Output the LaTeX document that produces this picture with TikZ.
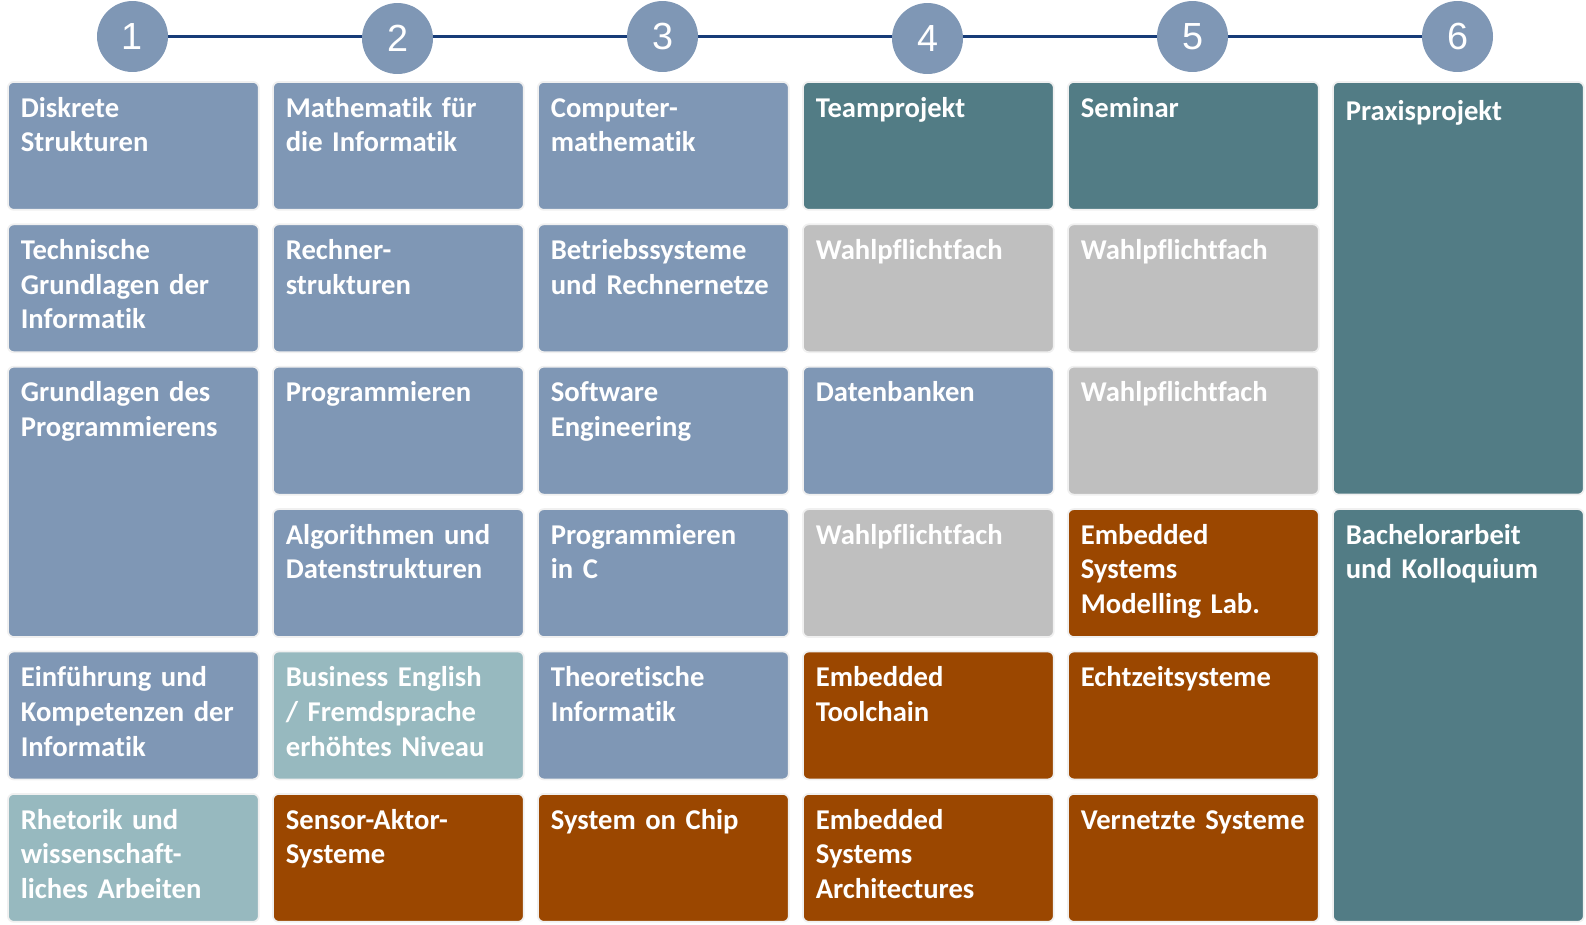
\documentclass[tikz,border=0pt]{standalone}
\usepackage{fontspec}
\setmainfont{Carlito}[Ligatures=NoCommon]
\newfontfamily\numfont{Liberation Sans}
\usetikzlibrary{backgrounds}
\definecolor{mod-blue}{HTML}{7F97B5}
\definecolor{mod-teal}{HTML}{527C85}
\definecolor{mod-gray}{HTML}{BFBFBF}
\definecolor{mod-light}{HTML}{97B9BF}
\definecolor{mod-orange}{HTML}{9B4700}
\definecolor{mod-line}{HTML}{173C78}

\begin{document}
\begin{tikzpicture}[x=0.02cm, y=-0.02cm,
        box/.style={anchor=north west, inner sep=0, minimum width=5.02cm,
          minimum height=2.56cm, rounded corners=3.4pt, draw=black!6, line width=1pt},
        tall/.style={minimum height=5.408cm},
        taller/.style={minimum height=8.256cm},
        modtext/.style={anchor=base west, inner sep=0, text width=4.8cm, align=left,
          text=white, font=\bfseries\fontsize{16.3}{19.8}\selectfont},
        sem/.style={circle, fill=mod-blue, minimum size=1.42cm, inner sep=0,
          text=white, font=\numfont\fontsize{21.5}{24}\selectfont}]
      \useasboundingbox (0,0) rectangle (1586,924);
      \foreach \n/\x/\y in {1/132.5/36.5, 2/397.5/38.5, 3/662.5/36.5,
          4/927.5/38.5, 5/1192.5/36.5, 6/1457.5/36.5}
        \node[sem] (s\n) at (\x,\y) {\n};
      \begin{scope}[on background layer]
        \draw[mod-line, line width=1.3pt] (s1.center) -- (s6.center);
      \end{scope}
      \node[box, fill=mod-blue] (ds) at (7,81) {};
      \node[modtext] (ds-t) at ([shift={(13.5,36)}]ds.north west) {Diskrete\\Strukturen};
      \node[box, fill=mod-blue] (tg) at (7,223.4) {};
      \node[modtext] (tg-t) at ([shift={(13.5,36)}]tg.north west) {Technische\\Grundlagen der\\Informatik};
      \node[box, tall, fill=mod-blue] (gp) at (7,365.8) {};
      \node[modtext] (gp-t) at ([shift={(13.5,36)}]gp.north west) {Grundlagen des\\Programmierens};
      \node[box, fill=mod-blue] (ek) at (7,650.6) {};
      \node[modtext] (ek-t) at ([shift={(13.5,36)}]ek.north west) {Einführung und\\Kompetenzen der\\Informatik};
      \node[box, fill=mod-light] (rw) at (7,793) {};
      \node[modtext] (rw-t) at ([shift={(13.5,36)}]rw.north west) {Rhetorik und\\wissenschaft-\\liches Arbeiten};
      \node[box, fill=mod-blue] (mi) at (272,81) {};
      \node[modtext] (mi-t) at ([shift={(13.5,36)}]mi.north west) {Mathematik für\\die Informatik};
      \node[box, fill=mod-blue] (rs) at (272,223.4) {};
      \node[modtext] (rs-t) at ([shift={(13.5,36)}]rs.north west) {Rechner-\\strukturen};
      \node[box, fill=mod-blue] (pr) at (272,365.8) {};
      \node[modtext] (pr-t) at ([shift={(13.5,36)}]pr.north west) {Programmieren};
      \node[box, fill=mod-blue] (ad) at (272,508.2) {};
      \node[modtext] (ad-t) at ([shift={(13.5,36)}]ad.north west) {Algorithmen und\\Datenstrukturen};
      \node[box, fill=mod-light] (be) at (272,650.6) {};
      \node[modtext] (be-t) at ([shift={(13.5,36)}]be.north west) {Business English\\/ Fremdsprache\\erhöhtes Niveau};
      \node[box, fill=mod-orange] (sa) at (272,793) {};
      \node[modtext] (sa-t) at ([shift={(13.5,36)}]sa.north west) {Sensor-Aktor-\\Systeme};
      \node[box, fill=mod-blue] (cm) at (537,81) {};
      \node[modtext] (cm-t) at ([shift={(13.5,36)}]cm.north west) {Computer-\\mathematik};
      \node[box, fill=mod-blue] (br) at (537,223.4) {};
      \node[modtext] (br-t) at ([shift={(13.5,36)}]br.north west) {Betriebssysteme\\und Rechnernetze};
      \node[box, fill=mod-blue] (se) at (537,365.8) {};
      \node[modtext] (se-t) at ([shift={(13.5,36)}]se.north west) {Software\\Engineering};
      \node[box, fill=mod-blue] (pc) at (537,508.2) {};
      \node[modtext] (pc-t) at ([shift={(13.5,36)}]pc.north west) {Programmieren\\in C};
      \node[box, fill=mod-blue] (ti) at (537,650.6) {};
      \node[modtext] (ti-t) at ([shift={(13.5,36)}]ti.north west) {Theoretische\\Informatik};
      \node[box, fill=mod-orange] (sc) at (537,793) {};
      \node[modtext] (sc-t) at ([shift={(13.5,36)}]sc.north west) {System on Chip};
      \node[box, fill=mod-teal] (tp) at (802,81) {};
      \node[modtext] (tp-t) at ([shift={(13.5,36)}]tp.north west) {Teamprojekt};
      \node[box, fill=mod-gray] (wa) at (802,223.4) {};
      \node[modtext] (wa-t) at ([shift={(13.5,36)}]wa.north west) {Wahlpflichtfach};
      \node[box, fill=mod-blue] (db) at (802,365.8) {};
      \node[modtext] (db-t) at ([shift={(13.5,36)}]db.north west) {Datenbanken};
      \node[box, fill=mod-gray] (wb) at (802,508.2) {};
      \node[modtext] (wb-t) at ([shift={(13.5,36)}]wb.north west) {Wahlpflichtfach};
      \node[box, fill=mod-orange] (et) at (802,650.6) {};
      \node[modtext] (et-t) at ([shift={(13.5,36)}]et.north west) {Embedded\\Toolchain};
      \node[box, fill=mod-orange] (ea) at (802,793) {};
      \node[modtext] (ea-t) at ([shift={(13.5,36)}]ea.north west) {Embedded\\Systems\\Architectures};
      \node[box, fill=mod-teal] (sm) at (1067,81) {};
      \node[modtext] (sm-t) at ([shift={(13.5,36)}]sm.north west) {Seminar};
      \node[box, fill=mod-gray] (wc) at (1067,223.4) {};
      \node[modtext] (wc-t) at ([shift={(13.5,36)}]wc.north west) {Wahlpflichtfach};
      \node[box, fill=mod-gray] (wd) at (1067,365.8) {};
      \node[modtext] (wd-t) at ([shift={(13.5,36)}]wd.north west) {Wahlpflichtfach};
      \node[box, fill=mod-orange] (em) at (1067,508.2) {};
      \node[modtext] (em-t) at ([shift={(13.5,36)}]em.north west) {Embedded\\Systems\\Modelling Lab.};
      \node[box, fill=mod-orange] (es) at (1067,650.6) {};
      \node[modtext] (es-t) at ([shift={(13.5,36)}]es.north west) {Echtzeitsysteme};
      \node[box, fill=mod-orange] (vs) at (1067,793) {};
      \node[modtext] (vs-t) at ([shift={(13.5,36)}]vs.north west) {Vernetzte Systeme};
      \node[box, taller, fill=mod-teal] (pp) at (1332,81) {};
      \node[modtext] (pp-t) at ([shift={(13.5,39)}]pp.north west) {Praxisprojekt};
      \node[box, taller, fill=mod-teal] (ba) at (1332,508.2) {};
      \node[modtext] (ba-t) at ([shift={(13.5,36)}]ba.north west) {Bachelorarbeit\\und Kolloquium};
    \end{tikzpicture}
\end{document}
